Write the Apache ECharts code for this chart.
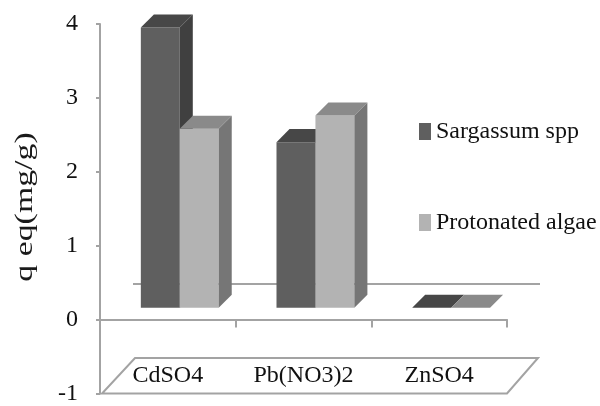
<!DOCTYPE html>
<html>
<head>
<meta charset="utf-8">
<style>
  html, body { margin: 0; padding: 0; background: #ffffff; }
  #chart { width: 600px; height: 406px; }
</style>
<script src="https://cdn.jsdelivr.net/npm/echarts@6/dist/echarts.min.js"></script>
</head>
<body>
<div id="chart"></div>
<script>
// Metal salts tested and equilibrium uptake (mg/g) for each biosorbent
const categories = ['CdSO4', 'Pb(NO3)2', 'ZnSO4'];
const sargassum = [3.79, 2.24, 0];
const protonated = [2.42, 2.60, 0];
const seriesNames = ['Sargassum spp', 'Protonated algae'];
const yTicks = { min: -1, max: 4, step: 1 };

const SERIF = "'Liberation Serif', 'Times New Roman', serif";
const AXIS_GRAY = '#a3a3a3';
const INK = '#111111';

// Face shades for the pseudo-3D columns: front, side, top
const shades = [
  { front: '#5f5f5f', side: '#404040', top: '#474747' },
  { front: '#b3b3b3', side: '#767676', top: '#8a8a8a' }
];

// Oblique column: front face at a shallow depth, extruded back-right by a fixed offset
function columnRenderer(slot, shade) {
  return function (params, api) {
    const i = api.value(0);
    const v = api.value(1);
    const base = api.coord([i, 0]);
    const head = api.coord([i, v]);
    const band = api.size([1, 0])[0];
    const w = band * 0.287;
    const d0 = band * 0.088;
    const d = band * 0.096;
    const x0 = base[0] + d0 - (slot === 0 ? w : 0);
    const x1 = x0 + w;
    const yb = base[1] - d0;
    const yt = head[1] - d0;
    return {
      type: 'group',
      children: [
        {
          type: 'rect',
          shape: { x: x0, y: yt, width: w, height: Math.max(0, yb - yt) },
          style: { fill: shade.front }
        },
        {
          type: 'polygon',
          shape: { points: [[x1, yt], [x1 + d, yt - d], [x1 + d, yb - d], [x1, yb]] },
          style: { fill: shade.side }
        },
        {
          type: 'polygon',
          shape: { points: [[x0, yt], [x1, yt], [x1 + d, yt - d], [x0 + d, yt - d]] },
          style: { fill: shade.top }
        }
      ]
    };
  };
}

const chart = echarts.init(document.getElementById('chart'), null, { renderer: 'canvas' });

const option = {
  animation: false,
  backgroundColor: '#ffffff',
  textStyle: { fontFamily: SERIF },
  grid: { left: 100, right: 93, top: 24, bottom: 12.5, containLabel: false, outerBoundsMode: 'none' },
  legend: {
    orient: 'vertical',
    left: 414,
    top: 114.5,
    itemWidth: 12,
    itemHeight: 17,
    itemGap: 67,
    icon: 'rect',
    data: seriesNames,
    textStyle: { fontFamily: SERIF, fontSize: 24, color: INK }
  },
  xAxis: {
    type: 'category',
    data: categories,
    boundaryGap: true,
    axisLine: { onZero: true, lineStyle: { color: AXIS_GRAY, width: 2 } },
    axisTick: { show: true, length: 8, lineStyle: { color: AXIS_GRAY, width: 2 } },
    axisLabel: { margin: -30, fontFamily: SERIF, fontSize: 24, color: INK },
    splitLine: { show: false },
    z: 5
  },
  yAxis: {
    type: 'value',
    min: yTicks.min,
    max: yTicks.max,
    interval: yTicks.step,
    axisLine: { show: true, lineStyle: { color: AXIS_GRAY, width: 2 } },
    axisTick: { show: true, length: 4, lineStyle: { color: AXIS_GRAY, width: 2 } },
    axisLabel: { margin: 22, fontFamily: SERIF, fontSize: 24, color: INK },
    splitLine: { show: false }
  },
  series: [
    {
      name: seriesNames[0],
      type: 'custom',
      renderItem: columnRenderer(0, shades[0]),
      itemStyle: { color: shades[0].front },
      data: sargassum.map((v, i) => [i, v]),
      encode: { x: 0, y: 1 },
      z: 3
    },
    {
      name: seriesNames[1],
      type: 'custom',
      renderItem: columnRenderer(1, shades[1]),
      itemStyle: { color: shades[1].front },
      data: protonated.map((v, i) => [i, v]),
      encode: { x: 0, y: 1 },
      z: 4
    }
  ]
};

chart.setOption(option);

// Floor planes: back edge of the zero plane and the label plate at the axis minimum
const px = (c, v) => chart.convertToPixel({ gridIndex: 0 }, [c, v]);
const band = px(1, 0)[0] - px(0, 0)[0];
const leftX = px(0, 0)[0] - band / 2;
const rightX = px(categories.length - 1, 0)[0] + band / 2;
const zeroY = px(0, 0)[1];
const minY = px(0, yTicks.min)[1];
const depthX = 33;
const depthY = 35.5;

chart.setOption({
  graphic: [
    {
      type: 'line',
      z: 1,
      shape: { x1: leftX + depthX, y1: zeroY - depthY, x2: rightX + depthX, y2: zeroY - depthY },
      style: { stroke: AXIS_GRAY, lineWidth: 2 }
    },
    {
      type: 'polygon',
      z: 1,
      shape: {
        points: [
          [leftX + 2, minY],
          [rightX, minY],
          [rightX + depthX - 2, minY - depthY],
          [leftX + depthX + 2, minY - depthY]
        ]
      },
      style: { fill: null, stroke: AXIS_GRAY, lineWidth: 2 }
    },
    {
      type: 'text',
      x: 26,
      y: 207,
      rotation: Math.PI / 2,
      scaleX: 1.38,
      style: {
        text: 'q eq(mg/g)',
        fontFamily: SERIF,
        fontSize: 24.5,
        fill: '#1a1a1a',
        align: 'center',
        verticalAlign: 'middle'
      }
    }
  ]
});
</script>
</body>
</html>
